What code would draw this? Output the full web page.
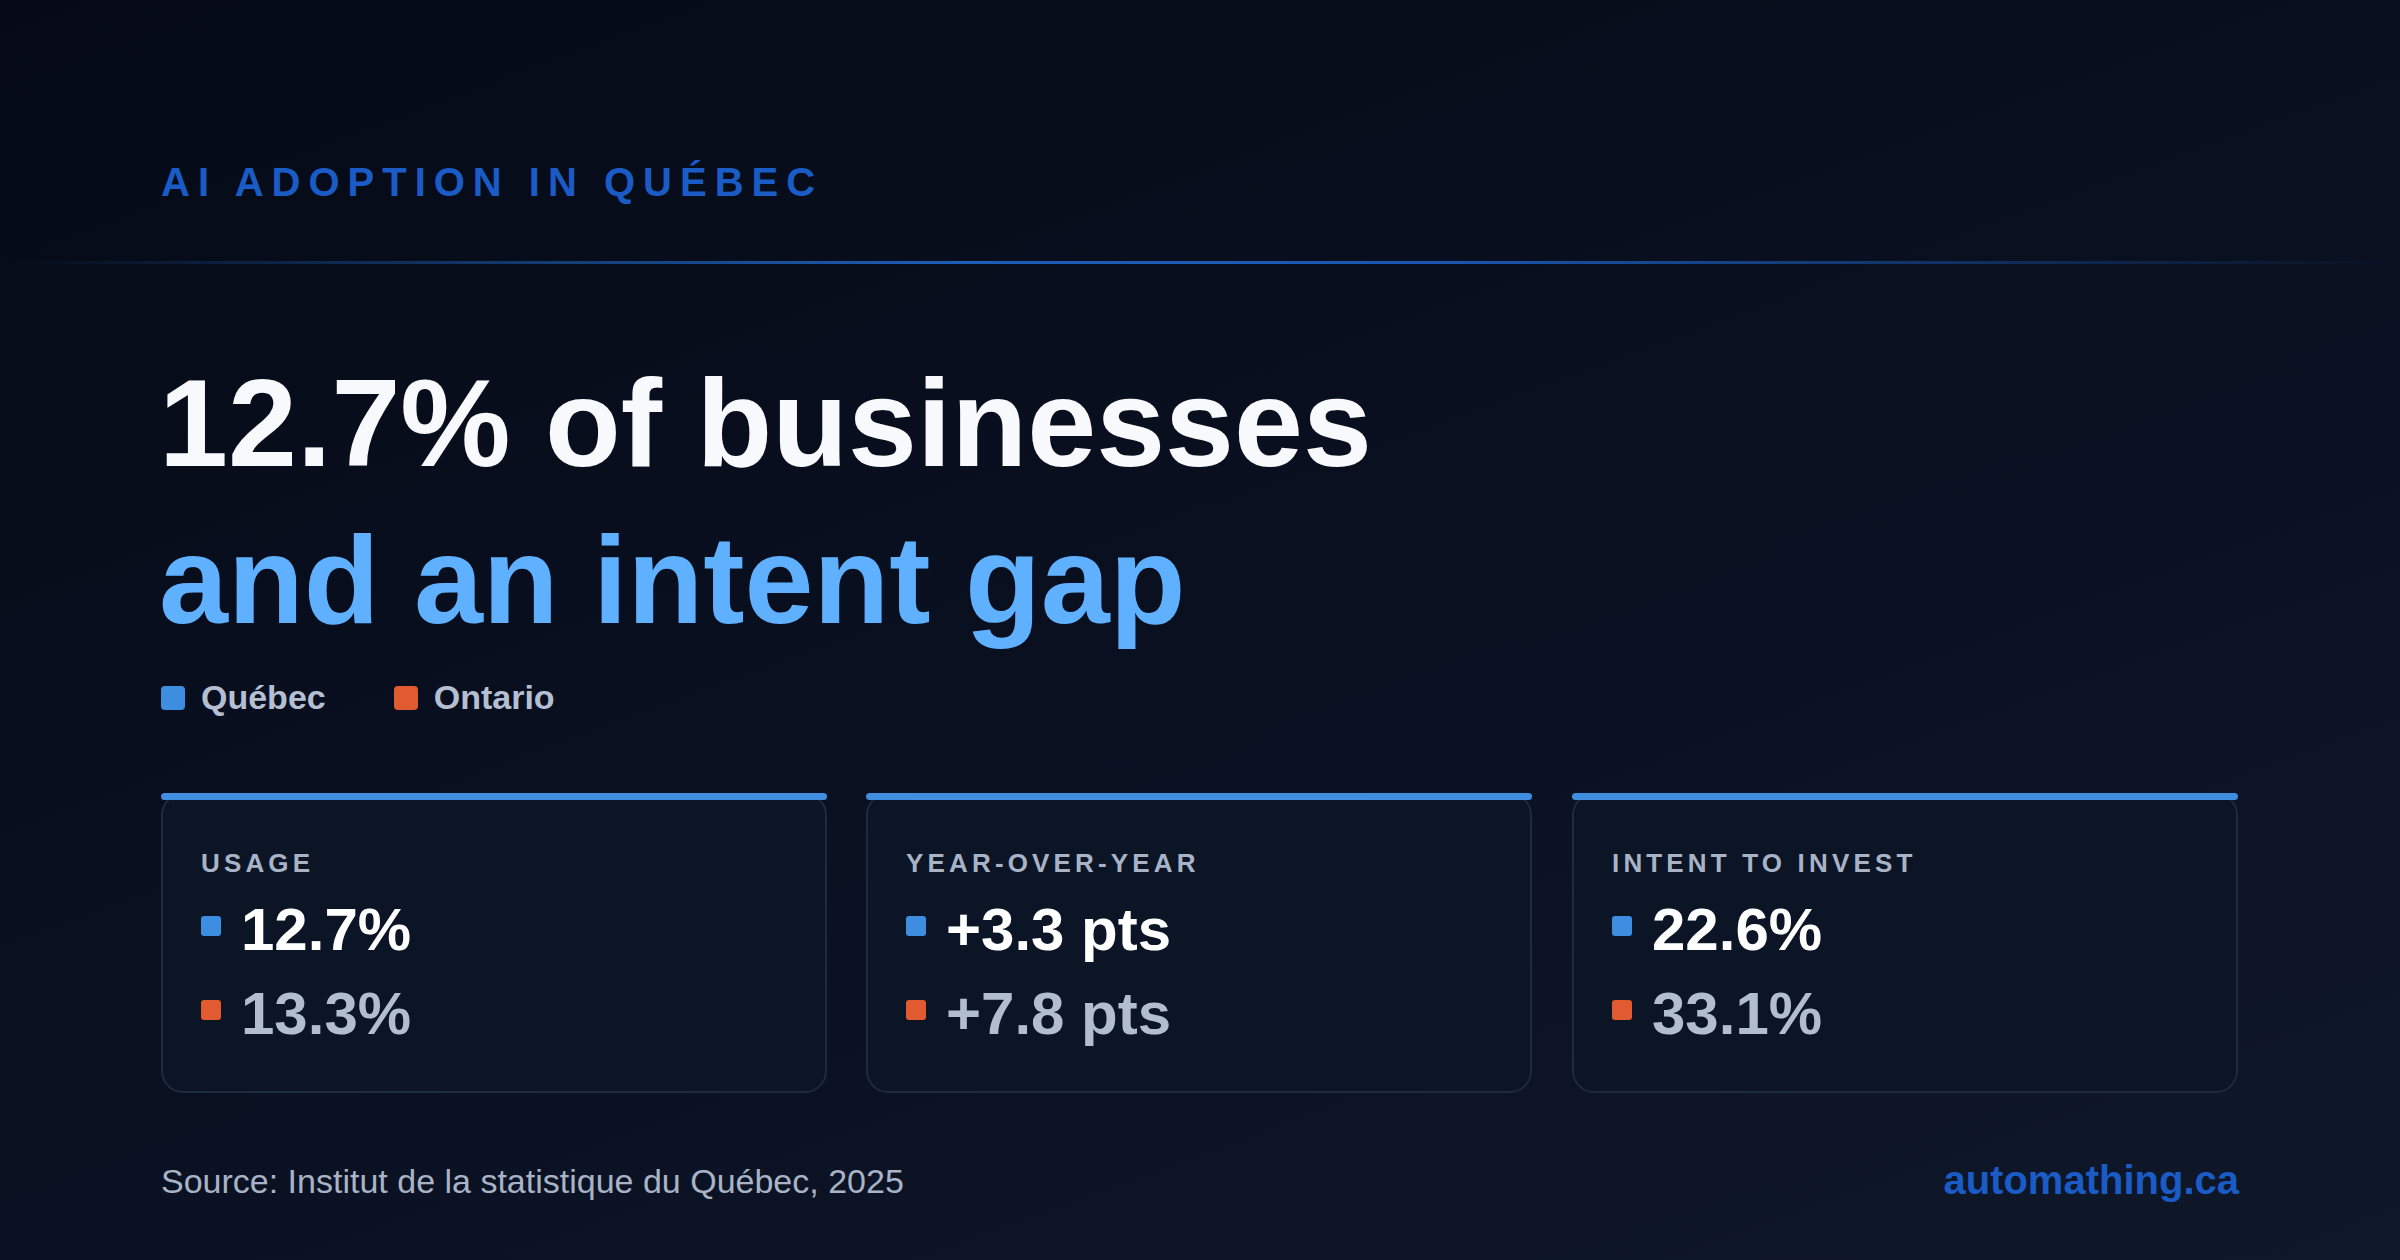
<!DOCTYPE html>
<html>
<head>
<meta charset="utf-8">
<script src="https://cdn.jsdelivr.net/npm/chart.js@4"></script>
<style>
  html, body { margin: 0; padding: 0; }
  body {
    width: 2400px; height: 1260px; overflow: hidden; position: relative;
    font-family: "Liberation Sans", Arial, sans-serif;
    background: linear-gradient(160deg, #050a16 0%, #0a1122 60%, #0f1829 100%);
  }
  .kicker {
    position: absolute; left: 161px; top: 160px;
    font-size: 40px; font-weight: bold; letter-spacing: 0.2em; color: #1a5bc6;
  }
  .rule {
    position: absolute; left: 0; top: 261px; width: 2400px; height: 3px;
    background: linear-gradient(90deg, rgba(30,90,180,0) 0%, #1d5eb8 40%, #1a56b0 60%, rgba(30,90,180,0) 100%);
  }
  .headline {
    position: absolute; left: 159px; top: 345px;
    font-size: 124px; font-weight: bold; line-height: 157px; color: #f7f9fc;
  }
  .headline .accent { color: #5fb0ff; }
  .legend {
    position: absolute; left: 161px; top: 678px;
    display: flex; gap: 68px; font-size: 34px; font-weight: bold; color: #b5bfd2;
  }
  .legend span { display: flex; align-items: center; }
  .sw { display: inline-block; width: 24px; height: 24px; border-radius: 4px; margin-right: 16px; }
  .card {
    position: absolute; top: 793px; width: 666px; height: 300px; box-sizing: border-box;
    border: 2px solid #1f2a3b; border-radius: 22px; background: #0b1526;
  }
  .card .bar {
    position: absolute; left: -2px; right: -2px; top: -2px; height: 7px;
    background: #3f8ee0; border-radius: 4px;
  }
  .card .label {
    position: absolute; left: 38px; top: 53px;
    font-size: 26px; font-weight: bold; letter-spacing: 0.16em; color: #a9b3c6;
  }
  .card .row {
    position: absolute; left: 38px; display: flex; align-items: center;
    font-size: 60px; font-weight: bold;
  }
  .card .row .sq { width: 20px; height: 20px; border-radius: 3px; margin-right: 20px; margin-top: -8px; }
  .source {
    position: absolute; left: 161px; top: 1162px; font-size: 34px; color: #a9b3c6;
  }
  .brand {
    position: absolute; right: 161px; top: 1158px; font-size: 40px; font-weight: bold; color: #1a5bc6;
  }
</style>
</head>
<body>
<div class="kicker" id="kicker"></div>
<div class="rule"></div>
<div class="headline"><div id="h1"></div><div class="accent" id="h2"></div></div>
<div class="legend" id="legend"></div>
<div id="cards"></div>
<div class="source" id="source"></div>
<div class="brand" id="brand"></div>
<script>
// data
const kicker = "AI ADOPTION IN QUÉBEC";
const headlineLines = ["12.7% of businesses", "and an intent gap"];
const seriesNames = ["Québec", "Ontario"];
const seriesColors = ["#3d8de0", "#e25a30"];
const metricLabels = ["USAGE", "YEAR-OVER-YEAR", "INTENT TO INVEST"];
const quebecValues = ["12.7%", "+3.3 pts", "22.6%"];
const ontarioValues = ["13.3%", "+7.8 pts", "33.1%"];
const sourceText = "Source: Institut de la statistique du Québec, 2025";
const brandText = "automathing.ca";

document.getElementById("kicker").textContent = kicker;
document.getElementById("h1").textContent = headlineLines[0];
document.getElementById("h2").textContent = headlineLines[1];
document.getElementById("source").textContent = sourceText;
document.getElementById("brand").textContent = brandText;

const legend = document.getElementById("legend");
seriesNames.forEach((name, i) => {
    const s = document.createElement("span");
    s.innerHTML = `<i class="sw" style="background:${seriesColors[i]}"></i>${name}`;
    legend.appendChild(s);
});

const cardLefts = [161, 866, 1572];
const rowColors = ["#ffffff", "#b3bdd0"];
const cards = document.getElementById("cards");
metricLabels.forEach((label, i) => {
    const c = document.createElement("div");
    c.className = "card";
    c.style.left = cardLefts[i] + "px";
    const vals = [quebecValues[i], ontarioValues[i]];
    c.innerHTML = `<div class="bar"></div><div class="label">${label}</div>` +
        vals.map((v, j) =>
            `<div class="row" style="top:${100 + j * 84}px;color:${rowColors[j]}">` +
            `<i class="sq" style="background:${seriesColors[j]}"></i>${v}</div>`).join("");
    cards.appendChild(c);
});
</script>
</body>
</html>
